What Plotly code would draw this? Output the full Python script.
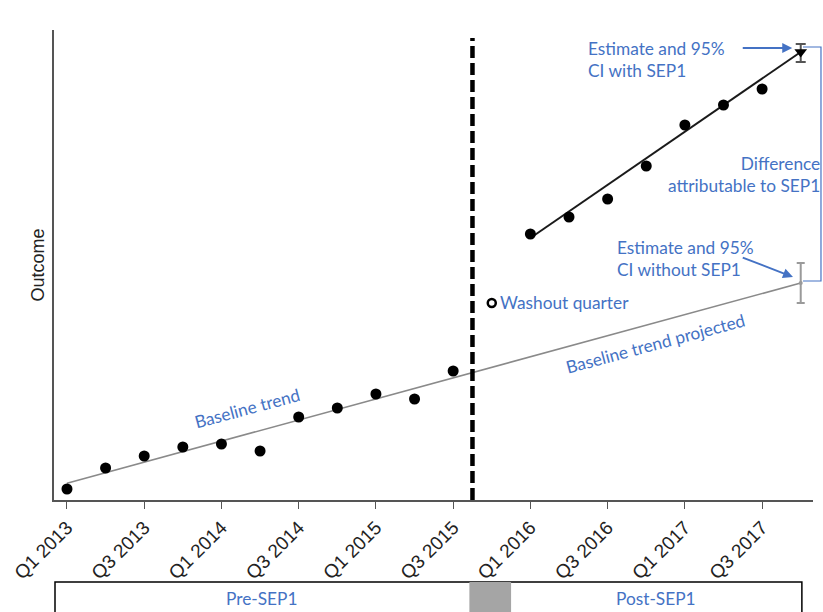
import plotly.graph_objects as go

# Quarters Q1 2013 .. Q4 2017 (index 0..19)
quarters = [f"Q{q} {y}" for y in range(2013, 2018) for q in range(1, 5)]
tick_idx = list(range(0, 19, 2))
tick_text = [quarters[i] for i in tick_idx]

# Observed outcome by quarter
pre_idx = list(range(0, 11))
pre_vals = [1.1, 3.2, 4.4, 5.3, 5.6, 4.9, 8.3, 9.2, 10.6, 10.1, 12.9]
washout_idx = [11]
washout_vals = [19.7]
post_idx = list(range(12, 19))
post_vals = [26.6, 28.3, 30.1, 33.4, 37.5, 39.5, 41.1]

# Fitted trends (start / end values)
baseline_idx = [0, 19]
baseline_vals = [1.67, 21.7]
post_trend_idx = [12, 19]
post_trend_vals = [26.2, 44.8]

# Q4 2017 estimates with 95% CI: [with SEP1, without SEP1]
est_idx = [19, 19]
est_vals = [44.8, 21.7]
ci_low = [43.8, 19.7]
ci_high = [45.6, 23.7]

sep1_start = 10.5
washout_end = 11.5

BLUE = "#4472C4"
TXT_FONT = "Lato, 'Open Sans', sans-serif"

fig = go.Figure()

# baseline trend (fitted + projected)
fig.add_trace(go.Scatter(x=baseline_idx, y=baseline_vals, mode="lines",
                         line=dict(color="#8a8a8a", width=1.6), hoverinfo="skip"))
# post trend
fig.add_trace(go.Scatter(x=post_trend_idx, y=post_trend_vals, mode="lines",
                         line=dict(color="#1a1a1a", width=2), hoverinfo="skip"))

# observed quarters
fig.add_trace(go.Scatter(x=pre_idx, y=pre_vals, mode="markers",
                         marker=dict(color="black", size=11)))
fig.add_trace(go.Scatter(x=post_idx, y=post_vals, mode="markers",
                         marker=dict(color="black", size=11)))
fig.add_trace(go.Scatter(x=washout_idx, y=washout_vals, mode="markers",
                         marker=dict(color="white", size=8,
                                     line=dict(color="black", width=2.5))))

# estimate without SEP1 (light grey)
fig.add_trace(go.Scatter(
    x=[est_idx[1]], y=[est_vals[1]], mode="markers",
    marker=dict(color="#999999", size=4),
    error_y=dict(type="data", symmetric=False,
                 array=[ci_high[1] - est_vals[1]],
                 arrayminus=[est_vals[1] - ci_low[1]],
                 color="#9a9a9a", thickness=2, width=4)))
# estimate with SEP1 (black)
fig.add_trace(go.Scatter(
    x=[est_idx[0]], y=[est_vals[0]], mode="markers",
    marker=dict(color="black", size=11, symbol="triangle-down"),
    error_y=dict(type="data", symmetric=False,
                 array=[ci_high[0] - est_vals[0]],
                 arrayminus=[est_vals[0] - ci_low[0]],
                 color="#555555", thickness=2, width=5)))

shapes = []
# policy start line
shapes.append(dict(type="line", xref="x", yref="y", x0=sep1_start, x1=sep1_start,
                   y0=0, y1=46.2, line=dict(color="black", width=4.5, dash="12px,5px")))
# period strip below the axis
shapes.append(dict(type="rect", xref="x", yref="paper", x0=-0.31, x1=19.03,
                   y0=-0.27, y1=-0.1745, line=dict(color="black", width=1.5),
                   fillcolor="white", layer="below"))
shapes.append(dict(type="rect", xref="x", yref="paper", x0=sep1_start - 0.08, x1=washout_end,
                   y0=-0.27, y1=-0.1745, line=dict(width=0),
                   fillcolor="#a5a5a5"))
# bracket for the difference
px2x = lambda p: (p - 52) / 761
py2y = lambda p: (500 - p) / 470
shapes.append(dict(type="path", xref="paper", yref="paper",
                   path=f"M {px2x(803)},{py2y(47)} L {px2x(821)},{py2y(47)} "
                        f"L {px2x(821)},{py2y(281)} L {px2x(803)},{py2y(281)}",
                   line=dict(color=BLUE, width=1.2)))

ann = []
tf = dict(family=TXT_FONT, size=17.3, color=BLUE)
ann.append(dict(x=13.43, y=44.05, xref="x", yref="y", xanchor="left", yanchor="middle",
                align="left", showarrow=False, font=tf,
                text="Estimate and 95%<br>CI with SEP1"))
ann.append(dict(x=14.2, y=24.15, xref="x", yref="y", xanchor="left", yanchor="middle",
                align="left", showarrow=False, font=tf,
                text="Estimate and 95%<br>CI without SEP1"))
ann.append(dict(x=px2x(822), y=py2y(175), xref="paper", yref="paper", xanchor="right",
                yanchor="middle", align="right", showarrow=False, font=tf,
                text="Difference<br>attributable to SEP1"))
ann.append(dict(x=11.17, y=19.8, xref="x", yref="y", xanchor="left", yanchor="middle",
                showarrow=False, font=tf, text="Washout quarter"))
ann.append(dict(x=4.65, y=9.2, xref="x", yref="y", showarrow=False, font=tf,
                textangle=-15, text="Baseline trend"))
ann.append(dict(x=15.24, y=15.7, xref="x", yref="y", showarrow=False, font=tf,
                textangle=-15, text="Baseline trend projected"))
# arrows
ann.append(dict(x=18.78, y=45.2, ax=17.46, ay=45.2, xref="x", yref="y",
                axref="x", ayref="y", showarrow=True, arrowhead=2, arrowsize=1,
                arrowwidth=2, arrowcolor=BLUE, text=""))
ann.append(dict(x=18.8, y=22.3, ax=17.46, ay=24.3, xref="x", yref="y",
                axref="x", ayref="y", showarrow=True, arrowhead=2, arrowsize=1,
                arrowwidth=2, arrowcolor=BLUE, text=""))
# period labels
ann.append(dict(x=5.04, y=py2y(598), xref="x", yref="paper", yanchor="middle",
                showarrow=False, font=tf, text="Pre-SEP1"))
ann.append(dict(x=15.24, y=py2y(598), xref="x", yref="paper", yanchor="middle",
                showarrow=False, font=tf, text="Post-SEP1"))

fig.update_layout(
    width=823, height=612,
    margin=dict(l=52, r=10, t=30, b=112),
    paper_bgcolor="white", plot_bgcolor="white",
    showlegend=False,
    shapes=shapes, annotations=ann,
    font=dict(family="'Liberation Sans', Arial, sans-serif", color="#222"),
)
fig.update_xaxes(range=[-0.336, 19.318], showgrid=False, zeroline=False,
                 showline=True, linecolor="#555", linewidth=2,
                 ticks="outside", ticklen=7, tickcolor="#555", tickwidth=1,
                 tickvals=tick_idx, ticktext=tick_text, tickangle=-45,
                 tickfont=dict(size=19, color="#222"))
fig.update_yaxes(range=[0, 47], showgrid=False, zeroline=False,
                 showline=True, linecolor="#555", linewidth=2,
                 showticklabels=False, ticks="",
                 title=dict(text="Outcome", font=dict(size=18, color="#222"), standoff=3))

fig.write_html("out.html")
